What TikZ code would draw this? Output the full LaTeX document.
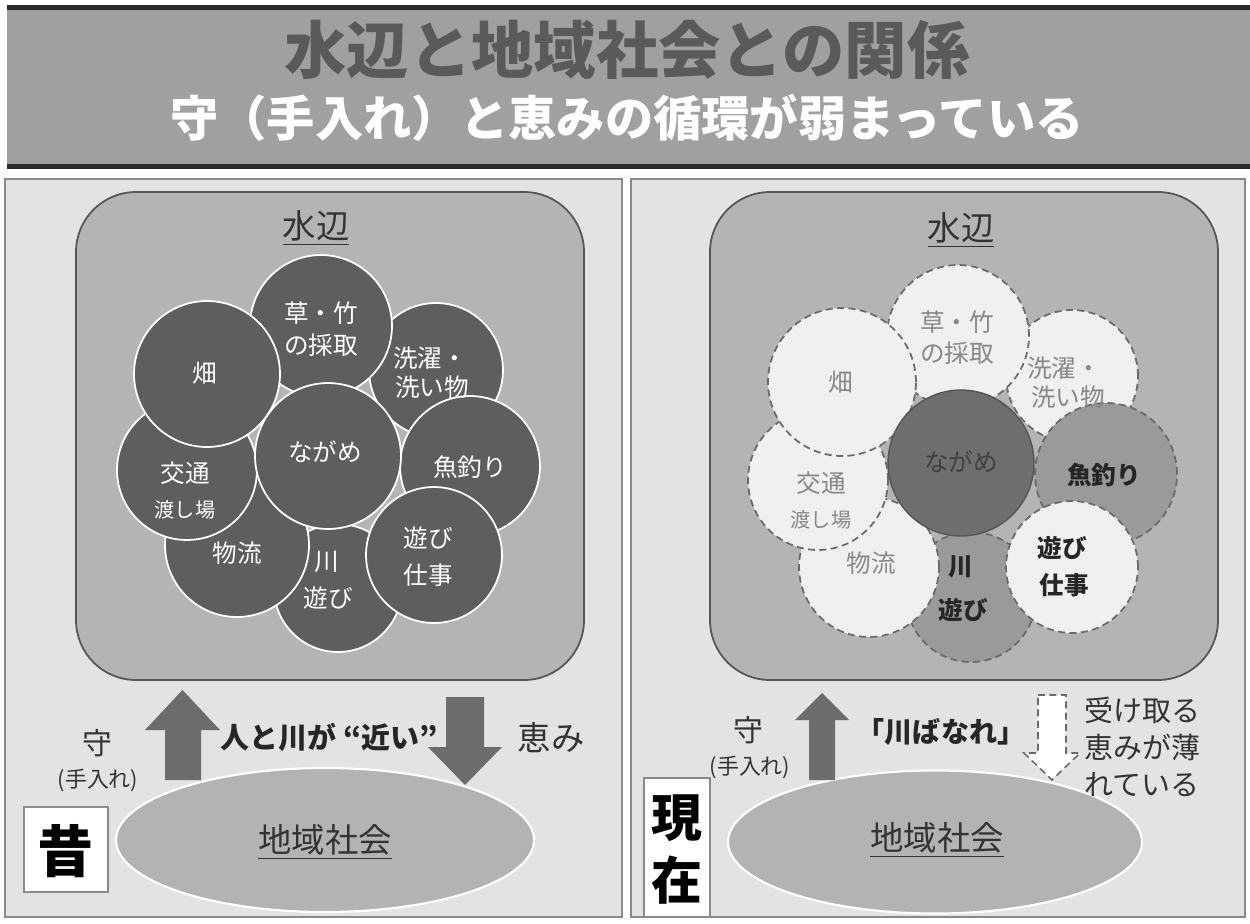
\documentclass[tikz,border=0pt]{standalone}
\usepackage{fontspec}
\newfontfamily\jp{Noto Sans CJK JP}
\usetikzlibrary{shapes.geometric}
\definecolor{cbanner}{HTML}{A0A0A2}
\definecolor{cline}{HTML}{2A2A2A}
\definecolor{ctitle}{HTML}{5A5A5A}
\definecolor{cpanel}{HTML}{E3E3E3}
\definecolor{cpanelb}{HTML}{8A8A8A}
\definecolor{crect}{HTML}{B4B4B4}
\definecolor{crectb}{HTML}{555555}
\definecolor{cdark}{HTML}{5E5E5E}
\definecolor{cnag}{HTML}{6E6E6E}
\definecolor{cmid}{HTML}{9A9A9A}
\definecolor{clight}{HTML}{F0F0F0}
\definecolor{cdash}{HTML}{6A6A6A}
\definecolor{cell}{HTML}{B3B3B3}
\definecolor{carrow}{HTML}{6C6C6C}
\definecolor{cgtext}{HTML}{888888}
\begin{document}
\begin{tikzpicture}[x=0.02cm,y=-0.02cm,font=\jp,
  rad/.style={minimum size=#1*0.04cm},
  dcirc/.style={circle,inner sep=0pt,fill=cdark,draw=white,line width=1pt},
  lcirc/.style={circle,inner sep=0pt,fill=clight,draw=cdash,line width=1pt,dash pattern=on 4pt off 2.5pt},
  mcirc/.style={circle,inner sep=0pt,fill=cmid,draw=cdash,line width=1pt,dash pattern=on 4pt off 2.5pt},
  ncirc/.style={circle,inner sep=0pt,fill=cnag,draw=crectb,line width=0.8pt},
  wt/.style={text=white,font=\jp\fontsize{14}{16}\selectfont,inner sep=0pt},
  wts/.style={text=white,font=\jp\fontsize{11.5}{13}\selectfont,inner sep=0pt},
  gt/.style={text=cgtext,font=\jp\fontsize{14}{16}\selectfont,inner sep=0pt},
  gts/.style={text=cgtext,font=\jp\fontsize{11.5}{13}\selectfont,inner sep=0pt},
  bt/.style={text=black!85,font=\jp\bfseries\fontsize{14}{16}\selectfont,inner sep=0pt},
  panel/.style={draw=cpanelb,fill=cpanel,line width=0.8pt,inner sep=0pt},
  wrect/.style={draw=crectb,fill=crect,line width=1pt,rounded corners=1.2cm,inner sep=0pt,minimum width=508*0.02cm,minimum height=488*0.02cm},
  soc/.style={ellipse,draw=white,fill=cell,line width=1.2pt,inner sep=0pt},
  hd/.style={font=\jp\fontsize{19}{22}\selectfont,text=black!80,inner sep=0pt},
  mid/.style={font=\jp\fontsize{19}{22}\selectfont,text=black!80,inner sep=0pt},
  sm/.style={font=\jp\fontsize{12.5}{15}\selectfont,text=black!80,inner sep=0pt},
  bigc/.style={font=\jp\bfseries\fontsize{32}{36}\selectfont,text=black,inner sep=0pt},
  tagbox/.style={draw=cpanelb,fill=white,line width=0.6pt,inner sep=0pt}
]
\useasboundingbox (0,0) rectangle (1250,923);
\fill[white] (0,0) rectangle (1250,923);
% banner
\node[fill=cbanner,inner sep=0pt,minimum width=1243*0.02cm,minimum height=158*0.02cm] (banner) at (628.5,87) {};
\draw[cline,line width=2.6pt] (banner.north west) -- (banner.north east);
\draw[cline,line width=2.6pt] (banner.south west) -- (banner.south east);
\node[text=ctitle,font=\jp\bfseries\fontsize{35.5}{40}\selectfont,inner sep=0pt] (title) at (627,50) {水辺と地域社会との関係};
\node[text=white,font=\jp\bfseries\fontsize{27.5}{30}\selectfont,inner sep=0pt] (subtitle) at (627,118) {守（手入れ）と恵みの循環が弱まっている};
% panels
\node[panel,minimum width=617*0.02cm,minimum height=738*0.02cm] (panelL) at (313.5,548) {};
\node[panel,minimum width=614*0.02cm,minimum height=738*0.02cm] (panelR) at (938,548) {};
% ===== LEFT =====
\node[wrect] (rectL) at (330,436) {};
\node[hd] (hdL) at (316,228) {\underline{水辺}};
\node[dcirc,rad=67] (sentakuL) at (436,370) {};
\node[dcirc,rad=70] (tsuriL) at (470,466) {};
\node[dcirc,rad=64] (kawaL) at (338,588) {};
\node[dcirc,rad=68] (shigotoL) at (434,555) {};
\node[dcirc,rad=72] (butsuL) at (237,545) {};
\node[dcirc,rad=70] (koutsuL) at (187,470) {};
\node[dcirc,rad=71] (kusaL) at (321,326) {};
\node[dcirc,rad=73] (hataL) at (207,374) {};
\node[dcirc,rad=73] (nagaL) at (328,456) {};
\node[wt] (t1) at (205,373) {畑};
\node[wt] (t2) at (321,313) {草・竹};
\node[wt] (t3) at (321,345) {の採取};
\node[wt] (t4) at (430,358) {洗濯・};
\node[wt] (t5) at (432,387) {洗い物};
\node[wt] (t6) at (325,452) {ながめ};
\node[wt] (t7) at (470,467) {魚釣り};
\node[wt] (t8) at (185,473) {交通};
\node[wts] (t9) at (185,510) {渡し場};
\node[wt] (t10) at (237,553) {物流};
\node[wt] (t11) at (327,562) {川};
\node[wt] (t12) at (328,598) {遊び};
\node[wt] (t13) at (428,538) {遊び};
\node[wt] (t14) at (428,575) {仕事};
% society left
\node[soc,minimum width=418*0.02cm,minimum height=144*0.02cm] (socL) at (325,840) {};
\node[mid] (socLt) at (325,842) {\underline{地域社会}};
% arrows left
\fill[carrow] (165,780) -- (165,730) -- (145,730) -- (182.5,690) -- (220,730) -- (201,730) -- (201,780) -- cycle;
\fill[carrow] (446,697) -- (484,697) -- (484,747) -- (502,747) -- (465,785) -- (428,747) -- (446,747) -- cycle;
\node[font=\jp\bfseries\fontsize{16.5}{19}\selectfont,text=black!85,inner sep=0pt] (nearL) at (329,737) {人と川が “近い”};
\node[mid] (megumiL) at (551,738) {恵み};
\node[font=\jp\fontsize{17}{19}\selectfont,text=black!80,inner sep=0pt] (mamoriL) at (97,743) {守};
\node[sm] (teireL) at (98,780) {(手入れ)};
\node[tagbox,minimum width=84*0.02cm,minimum height=85*0.02cm] (mukashiBox) at (66,849.5) {};
\node[bigc] (mukashi) at (66,851) {昔};
% ===== RIGHT =====
\node[wrect] (rectR) at (964,436) {};
\node[hd] (hdR) at (961,230) {\underline{水辺}};
\node[lcirc,rad=66] (sentakuR) at (1072,376) {};
\node[mcirc,rad=71] (tsuriR) at (1106,474) {};
\node[mcirc,rad=65] (kawaR) at (971,597) {};
\node[lcirc,rad=66] (shigotoR) at (1072,567) {};
\node[lcirc,rad=70] (butsuR) at (869,567) {};
\node[lcirc,rad=70] (koutsuR) at (818,480) {};
\node[lcirc,rad=71] (kusaR) at (958,336) {};
\node[lcirc,rad=74] (hataR) at (842,382) {};
\node[ncirc,rad=73] (nagaR) at (961,463) {};
\node[gt] (r1) at (841,382) {畑};
\node[gt] (r2) at (957,322) {草・竹};
\node[gt] (r3) at (957,353) {の採取};
\node[gt] (r4) at (1064,368) {洗濯・};
\node[gt] (r5) at (1068,397) {洗い物};
\node[text=black!75,font=\jp\fontsize{14}{16}\selectfont,inner sep=0pt] (r6) at (961,462) {ながめ};
\node[bt] (r7) at (1104,475) {魚釣り};
\node[gt] (r8) at (821,483) {交通};
\node[gts] (r9) at (821,520) {渡し場};
\node[gt] (r10) at (871,563) {物流};
\node[bt] (r11) at (961,567) {川};
\node[bt] (r12) at (963,610) {遊び};
\node[bt] (r13) at (1062,548) {遊び};
\node[bt] (r14) at (1064,585) {仕事};
% society right
\node[soc,minimum width=414*0.02cm,minimum height=143*0.02cm] (socR) at (935,842) {};
\node[mid] (socRt) at (937,840) {\underline{地域社会}};
% arrows right
\fill[carrow] (809,780) -- (809,720) -- (795,720) -- (822,693) -- (849,720) -- (835,720) -- (835,780) -- cycle;
\draw[fill=white,draw=cdash,line width=0.9pt,dash pattern=on 4pt off 2.5pt] (1038,695) -- (1066,695) -- (1066,753) -- (1080,753) -- (1052,780) -- (1024,753) -- (1038,753) -- cycle;
\node[font=\jp\bfseries\fontsize{16}{19}\selectfont,text=black!85,inner sep=0pt] (hanare) at (941,732) {「川ばなれ」};
\node[font=\jp\fontsize{17}{19}\selectfont,text=black!80,inner sep=0pt] (mamoriR) at (748,730) {守};
\node[sm] (teireR) at (750,767) {(手入れ)};
\node[font=\jp\fontsize{16.5}{21}\selectfont,text=black!80,inner sep=0pt,align=left,anchor=north west] (ukeR) at (1084,697) {受け取る\\恵みが薄\\れている};
\node[tagbox,minimum width=66*0.02cm,minimum height=139*0.02cm] (genzaiBox) at (677,847.5) {};
\node[font=\jp\bfseries\fontsize{29}{33}\selectfont,text=black,inner sep=0pt] (gen) at (677,818) {現};
\node[font=\jp\bfseries\fontsize{29}{33}\selectfont,text=black,inner sep=0pt] (zai) at (677,880) {在};
\end{tikzpicture}
\end{document}
